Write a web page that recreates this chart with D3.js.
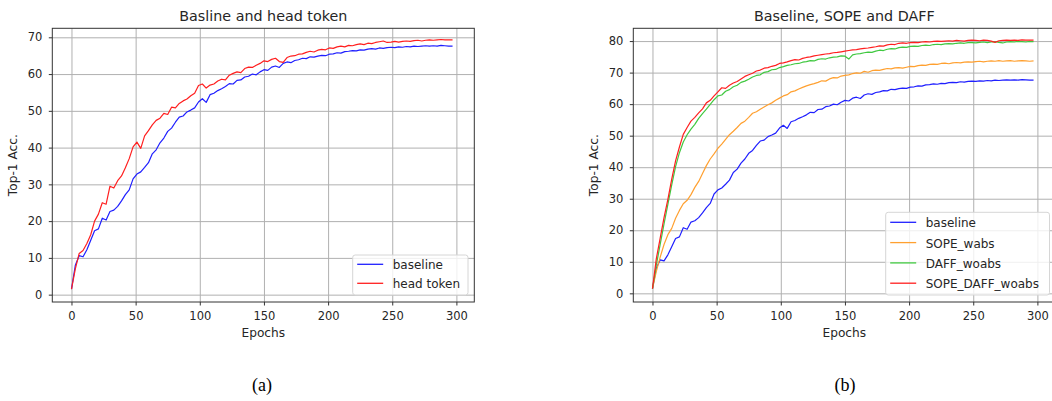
<!DOCTYPE html>
<html>
<head>
<meta charset="utf-8">
<script src="https://cdn.jsdelivr.net/npm/d3@7"></script>
<style>
  body { margin: 0; background: #fff; }
  text { font-family: "DejaVu Sans", sans-serif; fill: #262626; }
</style>
</head>
<body>
<div id="fig"></div>
<script>

// ======================= //
// DATA
// ======================= //

// epochs sampled every 3
var epochs = [0,3,6,9,12,15,18,21,24,27,30,33,36,39,42,45,48,51,54,57,60,63,66,69,72,75,78,81,84,87,
  90,93,96,99,102,105,108,111,114,117,120,123,126,129,132,135,138,141,144,147,150,153,156,159,162,165,168,171,174,177,
  180,183,186,189,192,195,198,201,204,207,210,213,216,219,222,225,228,231,234,237,240,243,246,249,252,255,258,261,264,267,
  270,273,276,279,282,285,288,291,294,297]

var baseline = [1.5,8.0,10.6,10.3,12.2,14.8,17.4,17.9,20.8,20.3,22.6,23.0,24.0,25.5,27.2,28.5,31.5,32.8,33.4,34.6,
  35.9,38.3,39.4,41.3,42.6,44.4,45.3,46.9,48.3,48.6,49.7,50.2,50.8,52.4,53.3,52.3,54.4,54.8,55.5,56.0,
  56.6,57.4,57.3,58.3,58.4,59.2,59.4,60.0,59.8,60.6,61.2,61.0,61.9,62.2,61.8,62.9,63.3,63.1,63.7,63.9,
  64.3,64.2,64.7,64.6,64.9,65.1,65.0,65.4,65.5,65.8,65.7,66.1,66.2,66.4,66.3,66.6,66.5,66.8,66.9,66.8,
  67.1,67.0,67.2,67.3,67.2,67.4,67.3,67.5,67.4,67.6,67.5,67.6,67.7,67.6,67.7,67.6,67.8,67.7,67.6,67.6]

var headToken = [1.5,7.0,11.2,12.0,13.9,16.3,20.0,21.9,25.0,24.6,29.5,29.0,31.0,32.3,34.5,37.0,40.2,41.5,39.8,43.2,
  44.6,46.2,47.4,48.0,49.3,49.0,51.0,50.8,52.0,52.7,53.2,54.1,54.8,56.9,57.3,56.2,57.0,57.3,58.1,58.6,
  58.4,59.7,60.2,60.6,60.4,61.5,61.9,61.8,62.4,62.9,63.6,63.4,64.0,64.3,63.4,63.2,64.5,64.9,65.0,65.4,
  65.5,65.9,66.2,66.0,66.5,66.7,66.6,67.1,67.0,67.4,67.6,67.4,67.8,67.7,68.0,68.2,68.0,68.4,68.3,68.6,
  68.8,69.0,68.6,68.7,68.9,68.7,68.9,69.0,68.9,69.1,69.2,69.0,69.2,69.3,69.2,69.3,69.4,69.3,69.3,69.3]

var sopeWabs = [1.5,7.0,11.5,15.5,18.6,20.6,23.8,26.3,28.4,29.5,31.3,33.6,35.5,38.0,40.5,42.6,44.2,46.0,47.3,48.8,
  50.3,51.4,52.6,53.9,54.6,55.8,57.1,57.6,58.4,59.1,59.8,60.4,61.2,61.9,62.6,63.0,63.9,64.2,64.8,65.3,
  65.8,66.2,66.5,66.9,67.4,67.3,68.0,68.4,68.3,68.9,69.1,69.3,69.7,69.9,69.8,70.4,70.1,70.6,70.8,70.7,
  71.0,71.3,71.2,71.5,71.6,71.4,71.7,72.0,71.9,72.2,72.4,72.3,72.6,72.7,72.6,72.9,73.0,72.8,73.1,73.2,
  73.1,73.3,73.4,73.3,73.5,73.6,73.4,73.6,73.7,73.6,73.8,73.6,73.7,73.8,73.6,73.7,73.8,73.7,73.6,73.7]

var daffWoabs = [1.5,9.0,15.5,22.0,28.2,34.4,40.2,44.6,48.0,50.3,52.1,53.6,55.5,57.0,58.4,59.9,61.4,62.6,62.9,64.1,
  64.6,65.5,66.0,66.9,67.3,67.9,68.6,69.1,69.3,70.1,70.3,70.9,71.0,71.6,71.9,72.3,72.5,72.8,72.9,73.3,
  73.5,73.8,73.7,74.2,74.4,74.3,74.7,74.9,75.0,75.3,75.2,74.3,75.6,75.9,76.0,76.3,76.5,76.4,76.8,77.1,
  77.0,77.4,77.6,77.5,77.9,78.1,78.0,78.3,78.4,78.3,78.6,78.7,78.6,78.9,79.0,78.9,79.1,79.2,79.1,79.3,
  79.4,79.3,79.5,79.5,79.4,79.6,79.7,79.5,79.7,79.8,79.6,79.4,79.7,79.8,79.7,79.9,79.8,79.7,79.9,79.8]

var sopeDaffWoabs = [1.5,11.0,17.5,24.0,29.8,36.2,42.0,46.4,50.4,52.6,54.6,55.8,57.2,58.5,60.4,61.2,62.6,63.9,65.2,65.0,
  66.0,66.7,67.2,68.0,68.8,69.3,69.8,70.5,70.8,71.4,71.6,72.0,72.3,72.9,73.1,73.4,73.8,74.1,74.0,74.5,
  74.8,75.0,75.3,75.5,75.7,75.9,76.0,76.3,76.4,76.6,76.8,77.0,77.2,77.3,77.5,77.7,77.8,78.0,78.2,78.5,
  78.4,78.8,79.0,78.9,79.3,79.4,79.3,79.5,79.6,79.5,79.7,79.8,79.7,79.9,80.0,79.9,80.0,80.1,80.0,80.2,
  80.1,80.0,80.2,80.3,80.2,80.1,80.3,80.2,80.0,79.6,80.1,80.2,80.3,80.2,80.3,80.2,80.4,80.3,80.3,80.3]

var xTicks = [0, 50, 100, 150, 200, 250, 300]
var yTicksA = [0, 10, 20, 30, 40, 50, 60, 70]
var yTicksB = [0, 10, 20, 30, 40, 50, 60, 70, 80]

var seriesA = [
  {name: "baseline", values: baseline, color: "#1f1fff"},
  {name: "head token", values: headToken, color: "#ff1f1f"}
]
var seriesB = [
  {name: "baseline", values: baseline, color: "#1f1fff"},
  {name: "SOPE_wabs", values: sopeWabs, color: "#ffa030"},
  {name: "DAFF_woabs", values: daffWoabs, color: "#40c840"},
  {name: "SOPE_DAFF_woabs", values: sopeDaffWoabs, color: "#ff1f1f"}
]


// ======================= //
// SVG
// ======================= //

var W = 1052, H = 401
var svg = d3.select("#fig")
  .append("svg")
    .attr("width", W)
    .attr("height", H)

svg.append("rect").attr("width", W).attr("height", H).style("fill", "#fff")

var plotTop = 28.3, plotBottom = 302, plotWidth = 422


// ======================= //
// ONE PANEL
// ======================= //

function drawPanel(p) {

  var x = d3.scaleLinear()
    .domain([-14.95, 313.95])
    .range([p.left, p.left + plotWidth])
  var y = d3.scaleLinear()
    .domain(p.yDomain)
    .range([plotBottom, plotTop])

  var g = svg.append("g")

  // grid
  g.append("g")
    .attr("class", "grid")
    .attr("transform", "translate(0," + plotBottom + ")")
    .call(d3.axisBottom(x).tickValues(xTicks).tickSize(-(plotBottom - plotTop)).tickFormat(""))
  g.append("g")
    .attr("class", "grid")
    .attr("transform", "translate(" + p.left + ",0)")
    .call(d3.axisLeft(y).tickValues(p.yTicks).tickSize(-plotWidth).tickFormat(""))
  g.selectAll(".grid .domain").remove()
  g.selectAll(".grid .tick line")
    .style("stroke", "#b0b0b0")
    .style("stroke-width", 1)

  // curves
  var line = d3.line()
    .x(function(d, i) { return x(epochs[i]) })
    .y(function(d) { return y(d) })

  g.selectAll(".curve")
    .data(p.series)
    .enter()
    .append("path")
      .attr("class", "curve")
      .attr("d", function(d) { return line(d.values) })
      .style("fill", "none")
      .style("stroke", function(d) { return d.color })
      .style("stroke-width", 1.2)
      .style("stroke-linejoin", "round")

  // frame
  g.append("rect")
    .attr("x", p.left)
    .attr("y", plotTop)
    .attr("width", plotWidth)
    .attr("height", plotBottom - plotTop)
    .style("fill", "none")
    .style("stroke", "#333")
    .style("stroke-width", 1)

  // axes
  var xAxis = g.append("g")
    .attr("transform", "translate(0," + plotBottom + ")")
    .call(d3.axisBottom(x).tickValues(xTicks).tickSize(3.5).tickPadding(6))
  var yAxis = g.append("g")
    .attr("transform", "translate(" + p.left + ",0)")
    .call(d3.axisLeft(y).tickValues(p.yTicks).tickSize(3.5).tickPadding(6.5))
  xAxis.select(".domain").remove()
  yAxis.select(".domain").remove()
  xAxis.selectAll("line").style("stroke", "#333")
  yAxis.selectAll("line").style("stroke", "#333")
  xAxis.selectAll("text").style("font-size", "11.5px").style("font-family", "DejaVu Sans").style("fill", "#262626")
  yAxis.selectAll("text").style("font-size", "11.5px").style("font-family", "DejaVu Sans").style("fill", "#262626")

  // titles and labels
  var cx = p.left + plotWidth / 2
  g.append("text")
    .attr("x", cx).attr("y", 20.5)
    .style("text-anchor", "middle")
    .style("font-size", "14.3px")
    .text(p.title)
  g.append("text")
    .attr("x", cx).attr("y", 337)
    .style("text-anchor", "middle")
    .style("font-size", "12.2px")
    .text("Epochs")
  g.append("text")
    .attr("transform", "translate(" + (p.left - 35) + "," + ((plotTop + plotBottom) / 2) + ")rotate(-90)")
    .style("text-anchor", "middle")
    .style("font-size", "12.2px")
    .text("Top-1 Acc.")

  // legend
  var L = p.legend
  g.append("rect")
    .attr("x", L.x).attr("y", L.y)
    .attr("width", L.w).attr("height", L.h)
    .attr("rx", 2.5)
    .style("fill", "#fff")
    .style("fill-opacity", 0.8)
    .style("stroke", "#d6d6d6")
    .style("stroke-width", 1)
  var rows = g.selectAll(".leg")
    .data(p.series)
    .enter()
    .append("g")
      .attr("transform", function(d, i) { return "translate(0," + (L.row0 + i * L.step) + ")" })
  rows.append("line")
    .attr("x1", L.x + 4.5).attr("x2", L.x + 30.5)
    .attr("y1", 0).attr("y2", 0)
    .style("stroke", function(d) { return d.color })
    .style("stroke-width", 1.3)
  rows.append("text")
    .attr("x", L.x + 40)
    .attr("y", 5)
    .style("font-size", "12px")
    .text(function(d) { return d.name })

  // caption
  svg.append("text")
    .attr("x", p.caption)
    .attr("y", 391)
    .style("text-anchor", "middle")
    .style("font-family", "'Liberation Serif', 'Times New Roman', serif")
    .style("font-size", "18px")
    .style("fill", "#000")
    .text(p.captionText)
}

drawPanel({
  left: 52.3,
  yDomain: [-2.0, 72.45],
  yTicks: yTicksA,
  series: seriesA,
  title: "Basline and head token",
  legend: {x: 352.7, y: 255, w: 115.3, h: 40, row0: 264.3, step: 19},
  caption: 262,
  captionText: "(a)"
})

drawPanel({
  left: 633.3,
  yDomain: [-2.75, 84.05],
  yTicks: yTicksB,
  series: seriesB,
  title: "Baseline, SOPE and DAFF",
  legend: {x: 885.7, y: 212.3, w: 163.8, h: 82.7, row0: 222.3, step: 20.3},
  caption: 845,
  captionText: "(b)"
})

</script>
</body>
</html>
